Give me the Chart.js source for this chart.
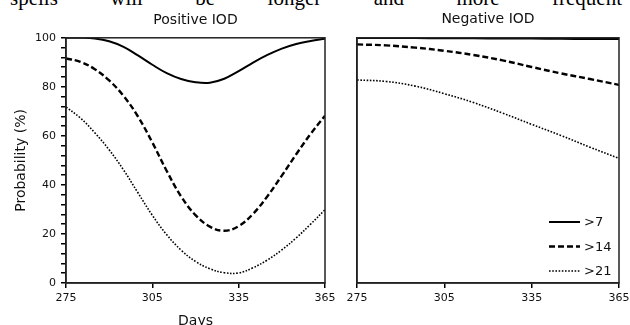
<!DOCTYPE html>
<html>
<head>
<meta charset="utf-8">
<script src="https://cdn.jsdelivr.net/npm/chart.js@4/dist/chart.umd.min.js"></script>
<style>
  html, body { margin: 0; padding: 0; background: #fff; width: 630px; height: 325px; overflow: hidden; position: relative; }
  #bodytext { position: absolute; left: 10px; right: 8px; top: -12px; font-family: "Liberation Serif", serif; font-size: 21px; line-height: 21px; display: flex; justify-content: space-between; color: #000; }
  #c1 { position: absolute; left: 0; top: 0; }
  #c2 { position: absolute; left: 335px; top: 0; }
</style>
</head>
<body>
<div id="bodytext"><span>spells</span><span>will</span><span>be</span><span>longer</span><span>and</span><span>more</span><span>frequent</span></div>
<canvas id="c1" width="335" height="333"></canvas>
<canvas id="c2" width="300" height="333"></canvas>
<script>
// ---- data ----
const seriesLabels = ['>7', '>14', '>21'];
const xTicks = [275, 305, 335, 365];
const yTickLabels = [0, 20, 40, 60, 80, 100];
const yMinorStep = 4;

const posDays  = [275, 280, 285, 290, 295, 300, 305, 310, 315, 320, 325, 330, 335, 340, 345, 350, 355, 360, 365];
const posGt7   = [100, 100, 99.7, 98.6, 96.3, 92.8, 89.0, 85.6, 83.2, 81.9, 81.7, 83.3, 86.4, 89.9, 93.0, 95.6, 97.5, 98.7, 99.6];
const posGt14  = [91.6, 90.2, 87.2, 82.6, 76.3, 67.9, 57.3, 45.7, 35.3, 27.7, 23.0, 21.3, 23.2, 28.2, 35.4, 43.8, 52.5, 60.8, 68.2];
const posGt21  = [71.8, 67.3, 61.3, 54.3, 46.1, 36.8, 27.6, 19.7, 13.4, 8.8, 5.8, 4.2, 4.1, 6.2, 9.4, 13.5, 18.4, 24.0, 29.9];

const negDays  = [275, 285, 295, 305, 315, 325, 335, 345, 355, 365];
const negGt7   = [99.9, 99.9, 99.9, 99.8, 99.8, 99.7, 99.7, 99.6, 99.5, 99.5];
const negGt14  = [97.3, 96.9, 96.0, 94.7, 93.0, 90.8, 88.1, 85.5, 83.2, 80.8];
const negGt21  = [82.8, 82.2, 80.3, 77.2, 73.6, 69.3, 64.7, 60.2, 55.4, 50.8];

// ---- styles ----
const FONT = "'DejaVu Sans', Verdana, sans-serif";
const styles = [
  { borderWidth: 2, borderDash: [] },
  { borderWidth: 2.4, borderDash: [6, 3] },
  { borderWidth: 1.6, borderDash: [1.6, 1.6] }
];

function makeDatasets(days, arrs) {
  return arrs.map((vals, i) => ({
    label: seriesLabels[i],
    data: days.map((d, k) => ({ x: d, y: vals[k] })),
    borderColor: '#000',
    borderWidth: styles[i].borderWidth,
    borderDash: styles[i].borderDash,
    pointRadius: 0,
    tension: 0.4,
    fill: false
  }));
}

const framePlugin = {
  id: 'frame',
  afterDatasetsDraw(chart) {
    const a = chart.chartArea, ctx = chart.ctx;
    ctx.save();
    ctx.strokeStyle = '#222';
    ctx.lineWidth = 1.5;
    ctx.setLineDash([]);
    ctx.strokeRect(a.left, a.top, a.right - a.left, a.bottom - a.top);
    ctx.restore();
  }
};

const legendPlugin = {
  id: 'lineLegend',
  afterDatasetsDraw(chart) {
    const a = chart.chartArea, ctx = chart.ctx;
    const ds = chart.data.datasets;
    ctx.save();
    ds.forEach((d, i) => {
      const y = a.bottom - 61 + i * 24.5;
      ctx.beginPath();
      ctx.strokeStyle = d.borderColor;
      ctx.lineWidth = d.borderWidth;
      ctx.setLineDash(d.borderDash);
      ctx.moveTo(a.right - 70, y);
      ctx.lineTo(a.right - 39, y);
      ctx.stroke();
      ctx.setLineDash([]);
      ctx.fillStyle = '#111';
      ctx.font = "13px " + FONT;
      ctx.textBaseline = 'middle';
      ctx.textAlign = 'left';
      ctx.fillText(d.label, a.right - 35, y + 1);
    });
    ctx.restore();
  }
};

const tickGrid = { display: true, drawOnChartArea: false, drawTicks: true, tickLength: 5, color: '#000', tickColor: '#000', lineWidth: 1.5, tickWidth: 1.5 };

function xScale(showTitle) {
  return {
    type: 'linear',
    min: 275, max: 365,
    afterBuildTicks(s) { s.ticks = xTicks.map(v => ({ value: v })); },
    ticks: { color: '#111', font: { family: FONT, size: 11 }, padding: 4, maxRotation: 0, autoSkip: false },
    grid: tickGrid,
    border: { display: true, color: '#222', width: 1.5 },
    title: { display: showTitle, text: 'Days', color: '#111', font: { family: FONT, size: 14 }, padding: { top: 0, bottom: 3 } },
    afterFit(s) { s.height = 50; s.paddingLeft = 0; s.paddingRight = 0; }
  };
}

// Left panel
new Chart(document.getElementById('c1'), {
  type: 'line',
  data: { datasets: makeDatasets(posDays, [posGt7, posGt14, posGt21]) },
  options: {
    responsive: false, animation: false, events: [],
    layout: { padding: { left: 0, right: 10, top: 0, bottom: 0 } },
    plugins: {
      legend: { display: false }, tooltip: { enabled: false },
      title: { display: true, text: 'Positive IOD', fullSize: false, color: '#111', font: { family: FONT, size: 14, weight: 'normal' }, padding: { top: 12, bottom: 9 } }
    },
    scales: {
      x: xScale(true),
      y: {
        min: 0, max: 100,
        afterBuildTicks(s) {
          const t = [];
          for (let v = 0; v <= 100; v += yMinorStep) t.push({ value: v });
          s.ticks = t;
        },
        ticks: { autoSkip: false, color: '#111', font: { family: FONT, size: 11 }, padding: 5,
                 callback: v => (yTickLabels.includes(v) ? String(v) : ' ') },
        grid: tickGrid,
        border: { display: true, color: '#222', width: 1.5 },
        title: { display: true, text: 'Probability (%)', color: '#111', font: { family: FONT, size: 14 }, padding: { top: 13, bottom: 0 } },
        afterFit(s) { s.width = 66; s.paddingTop = 0; s.paddingBottom = 0; }
      }
    }
  },
  plugins: [framePlugin]
});

// Right panel
new Chart(document.getElementById('c2'), {
  type: 'line',
  data: { datasets: makeDatasets(negDays, [negGt7, negGt14, negGt21]) },
  options: {
    responsive: false, animation: false, events: [],
    layout: { padding: { left: 0, right: 16, top: 0, bottom: 0 } },
    plugins: {
      legend: { display: false }, tooltip: { enabled: false },
      title: { display: true, text: 'Negative IOD', fullSize: false, color: '#111', font: { family: FONT, size: 14, weight: 'normal' }, padding: { top: 11, bottom: 10 } }
    },
    scales: {
      x: xScale(false),
      y: {
        min: 0, max: 100,
        ticks: { display: false },
        grid: { display: false },
        border: { display: true, color: '#222', width: 1.5 },
        afterFit(s) { s.width = 22; s.paddingTop = 0; s.paddingBottom = 0; }
      }
    }
  },
  plugins: [framePlugin, legendPlugin]
});
</script>
</body>
</html>
